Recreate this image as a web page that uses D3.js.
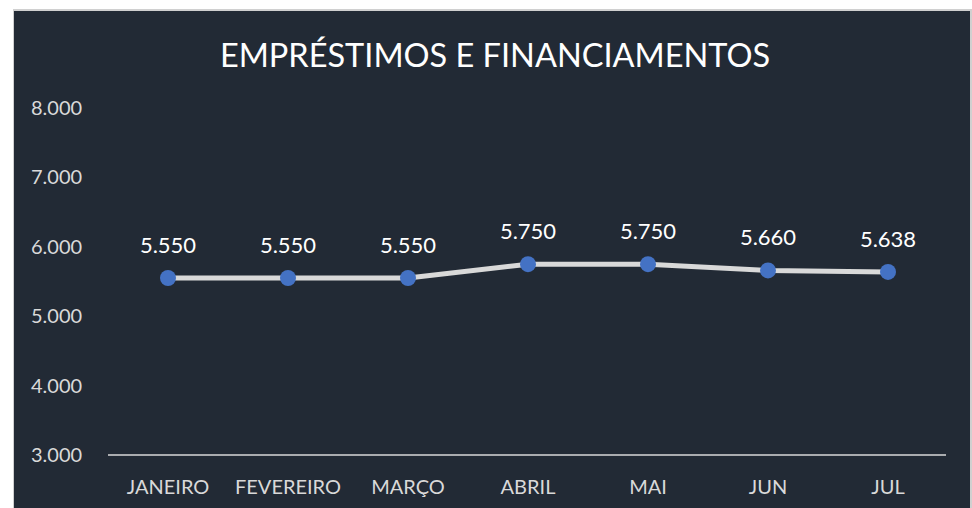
<!DOCTYPE html>
<html>
<head>
<meta charset="utf-8">
<script src="https://cdn.jsdelivr.net/npm/d3@7"></script>
<style>
  body { margin: 0; background: #fff; }
  svg { display: block; }
</style>
</head>
<body>
<script>
// dados do gráfico
const meses = ["JANEIRO", "FEVEREIRO", "MARÇO", "ABRIL", "MAI", "JUN", "JUL"];
const valores = [5550, 5550, 5550, 5750, 5750, 5660, 5638];
const ticksY = [3000, 4000, 5000, 6000, 7000, 8000];
const titulo = "EMPRÉSTIMOS E FINANCIAMENTOS";

const width = 972, height = 508;
const fonte = "Lato, 'Open Sans', sans-serif";
const fmt = v => d3.format(",")(v).replace(/,/g, ".");

const svg = d3.select("body").append("svg")
    .attr("width", width)
    .attr("height", height);

// moldura
svg.append("rect")
    .attr("x", 13).attr("y", 9)
    .attr("width", width - 13).attr("height", height - 9)
    .attr("fill", "#d0d0d0");
svg.append("rect")
    .attr("x", 14).attr("y", 11)
    .attr("width", width - 16).attr("height", height - 11)
    .attr("fill", "#222a35");

svg.append("text")
    .attr("x", 495).attr("y", 67)
    .attr("text-anchor", "middle")
    .style("font", "32.5px " + fonte)
    .attr("fill", "#ffffff")
    .text(titulo);

const x = d3.scaleBand().domain(meses).range([108, 948]);
const y = d3.scaleLinear().domain([3000, 8000]).range([455, 108]);

// eixo Y (só rótulos)
svg.append("g")
    .selectAll("text")
    .data(ticksY)
    .enter().append("text")
    .attr("x", 31)
    .attr("y", d => y(d))
    .attr("dy", "0.35em")
    .style("font", "20px " + fonte)
    .attr("fill", "#d9d9d9")
    .text(fmt);

// linha base
svg.append("line")
    .attr("x1", 108).attr("x2", 946)
    .attr("y1", y(3000)).attr("y2", y(3000))
    .attr("stroke", "#d9d9d9")
    .attr("stroke-width", 1.5);

// rótulos X
svg.append("g")
    .selectAll("text")
    .data(meses)
    .enter().append("text")
    .attr("x", d => x(d) + x.bandwidth() / 2)
    .attr("y", 494)
    .attr("text-anchor", "middle")
    .style("font", "20px " + fonte)
    .attr("fill", "#d9d9d9")
    .text(d => d);

const pontos = meses.map((m, i) => ({ m: m, v: valores[i] }));

const linha = d3.line()
    .x(d => x(d.m) + x.bandwidth() / 2)
    .y(d => y(d.v));

svg.append("path")
    .datum(pontos)
    .attr("d", linha)
    .attr("fill", "none")
    .attr("stroke", "#d9d9d9")
    .attr("stroke-width", 5)
    .attr("stroke-linejoin", "round");

svg.append("g")
    .selectAll("circle")
    .data(pontos)
    .enter().append("circle")
    .attr("cx", d => x(d.m) + x.bandwidth() / 2)
    .attr("cy", d => y(d.v))
    .attr("r", 8)
    .attr("fill", "#4472c4");

svg.append("g")
    .selectAll("text")
    .data(pontos)
    .enter().append("text")
    .attr("x", d => x(d.m) + x.bandwidth() / 2)
    .attr("y", d => y(d.v) - 25)
    .attr("text-anchor", "middle")
    .style("font", "22px " + fonte)
    .attr("fill", "#ffffff")
    .text(d => fmt(d.v));
</script>
</body>
</html>
